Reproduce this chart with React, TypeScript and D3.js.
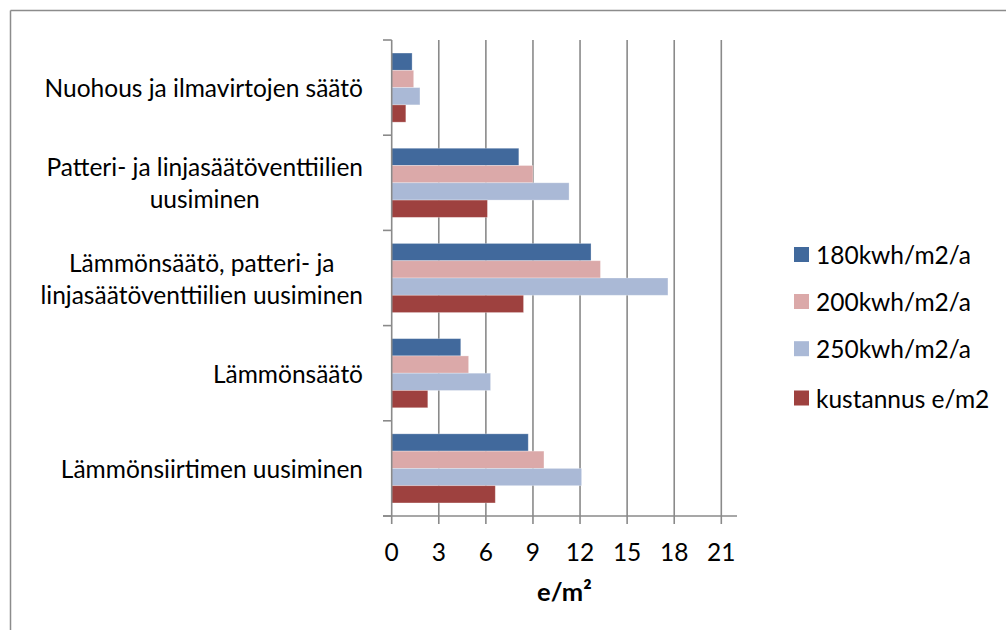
import React, { useLayoutEffect, useRef, useState } from "react";
import * as d3 from "d3";

const categories = [
  "Nuohous ja ilmavirtojen säätö",
  "Patteri- ja linjasäätöventtiilien uusiminen",
  "Lämmönsäätö, patteri- ja linjasäätöventtiilien uusiminen",
  "Lämmönsäätö",
  "Lämmönsiirtimen uusiminen",
];
const categoryLines = [
  ["Nuohous ja ilmavirtojen säätö"],
  ["Patteri- ja linjasäätöventtiilien", "uusiminen"],
  ["Lämmönsäätö, patteri- ja", "linjasäätöventtiilien uusiminen"],
  ["Lämmönsäätö"],
  ["Lämmönsiirtimen uusiminen"],
];
const seriesNames = ["180kwh/m2/a", "200kwh/m2/a", "250kwh/m2/a", "kustannus e/m2"];
const seriesColors = ["#41699c", "#dba9a9", "#aab9d6", "#9e413f"];
const v180 = [1.3, 8.1, 12.7, 4.4, 8.7];
const v200 = [1.4, 9.0, 13.3, 4.9, 9.7];
const v250 = [1.8, 11.3, 17.6, 6.3, 12.1];
const vCost = [0.9, 6.1, 8.4, 2.3, 6.6];
const seriesValues = [v180, v200, v250, vCost];
const xTicks = [0, 3, 6, 9, 12, 15, 18, 21];
const xMax = 22;
const axisTitle = "e/m²";

const FONT = "Lato, 'Open Sans', sans-serif";
const FS = 24.5;

export default function App() {
  const W = 1006, H = 630;
  const x = d3.scaleLinear().domain([0, xMax]).range([391.7, 737]);
  const y = d3.scaleBand<string>().domain(categories).range([40, 516]);
  const bw = y.bandwidth();
  const gap = bw * 0.137;
  const ys = d3.scaleBand<string>().domain(seriesNames).range([gap, bw - gap]);
  const gridColor = "#8a8a8a";
  const labelRight = 363;
  const lineH = 32;

  const measRef = useRef<SVGGElement>(null);
  const [widths, setWidths] = useState<number[]>(categories.map(() => 0));
  useLayoutEffect(() => {
    if (!measRef.current) return;
    const groups = Array.from(measRef.current.querySelectorAll("g.lab"));
    const ws = groups.map((g) => {
      const ts = Array.from(g.querySelectorAll("text")) as SVGTextElement[];
      return d3.max(ts, (t) => t.getComputedTextLength()) || 0;
    });
    setWidths(ws);
  }, []);

  const legendY = [254.5, 301.5, 348.7, 398];

  return (
    <svg width={W} height={H} style={{ position: "absolute", left: 0, top: 0, background: "#fff" }} fontFamily={FONT}>
      <rect x={0} y={0} width={W} height={H} fill="#fff" />
      {/* outer frame */}
      <line x1={10.5} y1={10.5} x2={W + 10} y2={10.5} stroke="#8c8c8c" strokeWidth={1.5} />
      <line x1={10.5} y1={10.5} x2={10.5} y2={H + 10} stroke="#8c8c8c" strokeWidth={1.5} />

      {/* gridlines */}
      {xTicks.slice(1).map((t) => (
        <line key={t} x1={x(t)} x2={x(t)} y1={40} y2={524} stroke={gridColor} strokeWidth={1.6} />
      ))}

      {/* bars */}
      {categories.map((c, ci) =>
        seriesNames.map((s, si) => (
          <rect
            key={c + s}
            x={x(0)}
            y={(y(c) as number) + (ys(s) as number)}
            width={x(seriesValues[si][ci]) - x(0)}
            height={ys.bandwidth()}
            fill={seriesColors[si]}
            stroke="#ffffff"
            strokeOpacity={0.35}
            strokeWidth={0.8}
          />
        ))
      )}

      {/* y axis */}
      <line x1={x(0)} x2={x(0)} y1={40} y2={524} stroke={gridColor} strokeWidth={1.6} />
      {[...categories.map((c) => y(c) as number), 516].map((yy, i) => (
        <line key={i} x1={383} x2={x(0)} y1={yy} y2={yy} stroke={gridColor} strokeWidth={1.6} />
      ))}
      {/* x axis */}
      <line x1={383} x2={737} y1={516} y2={516} stroke={gridColor} strokeWidth={1.6} />

      {/* x tick labels */}
      {xTicks.map((t) => (
        <text key={t} x={x(t)} y={551} textAnchor="middle" dominantBaseline="central" fontSize={FS} fill="#000">
          {t}
        </text>
      ))}
      <text x={(x(0) + x(xMax)) / 2} y={591} textAnchor="middle" dominantBaseline="central" fontSize={FS + 1} fontWeight="bold" fill="#000">
        {axisTitle}
      </text>

      {/* category labels */}
      <g ref={measRef}>
        {categoryLines.map((lines, ci) => {
          const cy = (y(categories[ci]) as number) + bw / 2;
          const w = widths[ci];
          const cx = labelRight - w / 2;
          const y0 = cy - ((lines.length - 1) * lineH) / 2;
          return (
            <g className="lab" key={ci}>
              {lines.map((l, li) => (
                <text key={li} x={cx} y={y0 + li * lineH} textAnchor="middle" dominantBaseline="central" fontSize={FS} fill="#000">
                  {l}
                </text>
              ))}
            </g>
          );
        })}
      </g>

      {/* legend */}
      {seriesNames.map((s, i) => (
        <g key={s}>
          <rect x={794} y={legendY[i] - 7.5} width={15} height={15} fill={seriesColors[i]} />
          <text x={816} y={legendY[i]} dominantBaseline="central" fontSize={FS} fill="#000">
            {s}
          </text>
        </g>
      ))}
    </svg>
  );
}
